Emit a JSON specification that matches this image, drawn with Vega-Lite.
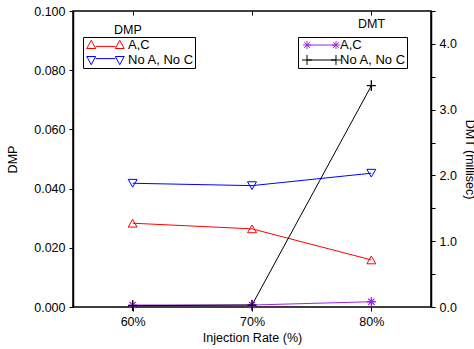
{
  "$schema": "https://vega.github.io/schema/vega-lite/v6.json",
  "autosize": {"type": "none"},
  "width": 358,
  "height": 296,
  "padding": {"left": 73, "top": 11, "right": 43, "bottom": 42},
  "background": "white",
  "config": {
    "font": "Liberation Sans",
    "view": {"stroke": "black", "strokeWidth": 1.5},
    "axis": {"grid": false, "domainColor": "black", "tickColor": "black", "labelColor": "black", "titleColor": "black", "labelFontSize": 12.5, "titleFontSize": 12.5, "titleFontWeight": "normal", "domainWidth": 1.5},
    "legend": {"labelFontSize": 13, "titleFontSize": 12.5, "titleFontWeight": "normal", "labelColor": "black", "titleColor": "black"}
  },
  "datasets": {
    "dmp": [
      {"rate": "60%", "series": "A,C", "value": 0.0283},
      {"rate": "70%", "series": "A,C", "value": 0.0264},
      {"rate": "80%", "series": "A,C", "value": 0.0159},
      {"rate": "60%", "series": "No A, No C", "value": 0.0418},
      {"rate": "70%", "series": "No A, No C", "value": 0.0410},
      {"rate": "80%", "series": "No A, No C", "value": 0.0452}
    ],
    "dmt": [
      {"rate": "60%", "series": "A,C", "value": 0.03},
      {"rate": "70%", "series": "A,C", "value": 0.03},
      {"rate": "80%", "series": "A,C", "value": 0.08},
      {"rate": "60%", "series": "No A, No C", "value": 0.02},
      {"rate": "70%", "series": "No A, No C", "value": 0.03},
      {"rate": "80%", "series": "No A, No C", "value": 3.364}
    ]
  },
  "layer": [
    {
      "data": {"name": "dmp"},
      "encoding": {
        "x": {"field": "rate", "type": "ordinal", "sort": ["60%", "70%", "80%"], "scale": {"type": "point", "padding": 0.5},
          "axis": {"orient": "bottom", "title": "Injection Rate (%)", "labelAngle": 0, "tickSize": 4, "labelPadding": 4, "titlePadding": 4, "domain": false}},
        "y": {"field": "value", "type": "quantitative", "scale": {"domain": [0, 0.1], "nice": false, "zero": true},
          "axis": {"orient": "left", "title": "DMP", "values": [0, 0.02, 0.04, 0.06, 0.08, 0.1], "format": ".3f", "tickSize": 4, "labelPadding": 4, "titlePadding": 14}}
      },
      "layer": [
        {
          "mark": {"type": "line", "strokeWidth": 1},
          "encoding": {
            "color": {"field": "series", "type": "nominal",
              "scale": {"domain": ["A,C", "No A, No C"], "range": ["#ff0000", "#0000ff"]},
              "legend": {
                "orient": "none", "legendX": 10, "legendY": 26, "title": "DMP", "padding": 1,
                "strokeColor": "black",
                "titlePadding": -13, "labelOffset": 15, "rowPadding": 0, "symbolSize": 196, "symbolStrokeWidth": 1,
                "symbolOffset": 14,
                "symbolFillColor": "transparent",
                "labelExpr": "datum.label + ' '",
                "symbolType": {"expr": "datum.value === 'A,C' ? 'M-1.4,0.2H1.4M-2.68,0.5L-2.04,-0.67L-1.4,0.5ZM1.4,0.5L2.04,-0.67L2.68,0.5Z' : 'M-1.4,-0.2H1.4M-2.68,-0.5L-2.04,0.67L-1.4,-0.5ZM1.4,-0.5L2.04,0.67L2.68,-0.5Z'"},
                "encode": {
                  "title": {"update": {"dx": {"value": 30}, "dy": {"value": -14}}}
                }
              }}
          }
        },
        {"transform": [{"filter": "datum.series === 'A,C'"}], "mark": {"type": "point", "filled": false, "shape": "triangle-up", "color": "#ff0000", "size": 80, "strokeWidth": 1, "opacity": 1}},
        {"transform": [{"filter": "datum.series === 'No A, No C'"}], "mark": {"type": "point", "filled": false, "shape": "triangle-down", "color": "#0000ff", "size": 80, "strokeWidth": 1, "opacity": 1}}
      ]
    },
    {
      "data": {"name": "dmt"},
      "encoding": {
        "x": {"field": "rate", "type": "ordinal", "sort": ["60%", "70%", "80%"], "scale": {"type": "point", "padding": 0.5},
          "axis": {"orient": "top", "title": null, "labels": false, "tickSize": -4, "domain": false}},
        "y": {"field": "value", "type": "quantitative", "scale": {"domain": [0, 4.5], "nice": false, "zero": true},
          "axis": {"orient": "right", "title": "DMT (millisec)", "values": [0, 0.5, 1, 1.5, 2, 2.5, 3, 3.5, 4, 4.5], "labelExpr": "datum.value % 1 === 0 ? format(datum.value, '.1f') : ''", "tickSize": 4, "labelPadding": 4, "titlePadding": 6}}
      },
      "layer": [
        {
          "mark": {"type": "line", "strokeWidth": 1},
          "encoding": {
            "color": {"field": "series", "type": "nominal",
              "scale": {"domain": ["A,C", "No A, No C"], "range": ["#a020f0", "#000000"]},
              "legend": {
                "orient": "none", "legendX": 225, "legendY": 26, "title": "DMT", "padding": 1,
                "strokeColor": "black",
                "titlePadding": -13, "labelOffset": 11, "rowPadding": 0, "symbolSize": 196, "symbolStrokeWidth": 1,
                "symbolOffset": 15,
                "symbolFillColor": "transparent",
                "labelExpr": "datum.label + ' '",
                "symbolType": {"expr": "datum.value === 'A,C' ? 'M-2.07,0H2.07M-2.64,0H-1.5M-2.07,-0.57V0.57M-2.47,-0.4L-1.67,0.4M-2.47,0.4L-1.67,-0.4M1.5,0H2.64M2.07,-0.57V0.57M1.67,-0.4L2.47,0.4M1.67,0.4L2.47,-0.4' : 'M-2.07,0H2.07M-2.78,0H-1.36M-2.07,-0.71V0.71M1.36,0H2.78M2.07,-0.71V0.71'"},
                "encode": {
                  "title": {"update": {"dx": {"value": 59}, "dy": {"value": -20}}}
                }
              }}
          }
        },
        {"transform": [{"filter": "datum.series === 'A,C'"}], "mark": {"type": "point", "filled": false, "shape": "M-1,0H1M0,-1V1M-0.7,-0.7L0.7,0.7M-0.7,0.7L0.7,-0.7", "color": "#a020f0", "size": 80, "strokeWidth": 1.3, "opacity": 1}},
        {"transform": [{"filter": "datum.series === 'No A, No C'"}], "mark": {"type": "point", "filled": false, "shape": "M-1,0H1M0,-1.2V1.2", "color": "#000000", "size": 80, "strokeWidth": 1.3, "opacity": 1}}
      ]
    }
  ],
  "resolve": {"scale": {"y": "independent", "color": "independent"}, "axis": {"x": "independent"}, "legend": {"color": "independent"}}
}
